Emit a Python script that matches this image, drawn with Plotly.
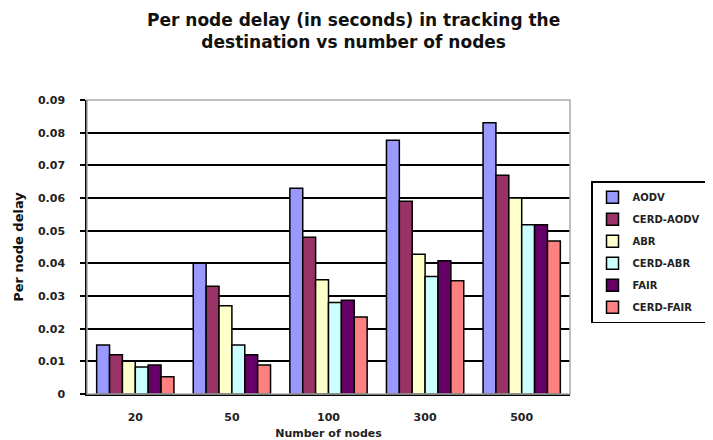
import plotly.graph_objects as go

categories = ["20", "50", "100", "300", "500"]
series_names = ["AODV", "CERD-AODV", "ABR", "CERD-ABR", "FAIR", "CERD-FAIR"]
aodv = [0.015, 0.040, 0.063, 0.0777, 0.083]
cerd_aodv = [0.012, 0.033, 0.048, 0.059, 0.067]
abr = [0.010, 0.027, 0.035, 0.0428, 0.060]
cerd_abr = [0.0083, 0.015, 0.028, 0.036, 0.0518]
fair = [0.0089, 0.012, 0.0287, 0.0408, 0.0518]
cerd_fair = [0.0053, 0.0089, 0.0236, 0.0347, 0.0468]
y_tick_vals = [0, 0.01, 0.02, 0.03, 0.04, 0.05, 0.06, 0.07, 0.08, 0.09]
y_tick_text = ["0", "0.01", "0.02", "0.03", "0.04", "0.05", "0.06", "0.07", "0.08", "0.09"]
title_text = "Per node delay (in seconds) in tracking the<br>destination vs number of nodes"

colors = ["#9999FF", "#993366", "#FFFFCC", "#CCFFFF", "#660066", "#FF8080"]
values = [aodv, cerd_aodv, abr, cerd_abr, fair, cerd_fair]

FONT = "DejaVu Sans"

fig = go.Figure()
for name, vals, col in zip(series_names, values, colors):
    fig.add_trace(go.Bar(
        x=categories, y=vals, name=name, legendgroup=name,
        marker=dict(color=col, line=dict(color="#000000", width=1.5)),
    ))

# page body adds an 8px offset, so the figure is sized 705x432
fig.update_layout(
    width=705, height=432,
    paper_bgcolor="white", plot_bgcolor="white",
    barmode="group", bargap=0.2, bargroupgap=0,
    margin=dict(l=79, r=143, t=92, b=46, autoexpand=False),
    legend=dict(
        x=1.0435, xanchor="left", y=0.724, yanchor="top",
        bordercolor="#000000", borderwidth=1.5, bgcolor="white",
        font=dict(family=FONT, size=10, color="#222222", weight="bold"),
        itemwidth=30, tracegroupgap=3,
    ),
    showlegend=True,
    shapes=[dict(type="rect", xref="paper", yref="paper", x0=0, y0=0, x1=1, y1=1,
                 line=dict(color="#AAAAAA", width=1.5), layer="above")],
    annotations=[
        dict(text=title_text, xref="paper", yref="paper", x=0.551, y=1.2347,
             xanchor="center", yanchor="middle", showarrow=False, borderpad=0,
             font=dict(family=FONT, size=17, color="#111111", weight="bold")),
    ],
)
fig.update_xaxes(
    automargin=False,
    showgrid=False, showline=True, linecolor="#000000", linewidth=1.5,
    ticks="", ticklabelstandoff=12,
    tickfont=dict(family=FONT, size=11, color="#222222", weight="bold"),
    title=dict(text="Number of nodes", standoff=7,
               font=dict(family=FONT, size=11, color="#222222", weight="bold")),
)
fig.update_yaxes(
    automargin=False,
    range=[0, 0.09], tickvals=y_tick_vals, ticktext=y_tick_text,
    showgrid=True, gridcolor="#000000", gridwidth=1.5,
    showline=True, linecolor="#000000", linewidth=1.5,
    ticks="outside", ticklen=5, tickcolor="#000000", tickwidth=1.5,
    ticklabelstandoff=13,
    tickfont=dict(family=FONT, size=11, color="#222222", weight="bold"),
    title=dict(text="Per node delay", standoff=11,
               font=dict(family=FONT, size=13, color="#111111", weight="bold")),
    zeroline=False,
)

fig.write_html("out.html")
